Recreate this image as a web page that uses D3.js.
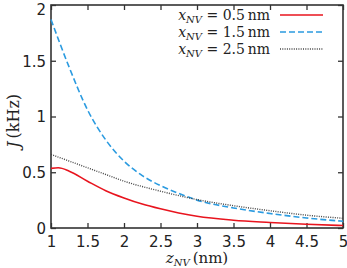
<!DOCTYPE html>
<html>
<head>
<meta charset="utf-8">
<script src="https://cdn.jsdelivr.net/npm/d3@7"></script>
<style>
  body { margin: 0; background: #fff; }
  svg { display: block; }
  .tick text { font-family: "DejaVu Sans", sans-serif; font-size: 15px; fill: #222; }
  .serif { font-family: "DejaVu Serif", "Liberation Serif", serif; fill: #222; }
</style>
</head>
<body>
<svg id="chart" width="347" height="268"></svg>
<script>
// z_NV (nm) sample points
var zRed   = [1, 1.1, 1.25, 1.5, 1.75, 2, 2.25, 2.5, 2.75, 3, 3.5, 4, 4.5, 5];
var jRed   = [0.535, 0.54, 0.51, 0.42, 0.335, 0.27, 0.215, 0.172, 0.135, 0.105, 0.07, 0.05, 0.033, 0.022];

var zBlue  = [1, 1.25, 1.5, 1.75, 2, 2.25, 2.5, 2.75, 3, 3.5, 4, 4.5, 5];
var jBlue  = [1.87, 1.44, 1.06, 0.79, 0.6, 0.47, 0.38, 0.31, 0.25, 0.18, 0.13, 0.09, 0.06];

var zBlack = [1, 1.25, 1.5, 1.75, 2, 2.5, 3, 3.5, 4, 4.5, 5];
var jBlack = [0.66, 0.6, 0.54, 0.48, 0.42, 0.33, 0.255, 0.2, 0.155, 0.115, 0.087];

var xTicks = [1, 1.5, 2, 2.5, 3, 3.5, 4, 4.5, 5];
var yTicks = [0, 0.5, 1, 1.5, 2];
var legendValues = ["0.5", "1.5", "2.5"];

var margin = {top: 5, right: 4, bottom: 40, left: 51},
    width = 347 - margin.left - margin.right,
    height = 268 - margin.top - margin.bottom;

var svg = d3.select("#chart");
var g = svg.append("g").attr("transform", "translate(" + margin.left + "," + margin.top + ")");

var x = d3.scaleLinear().domain([1, 5]).range([0, width]);
var y = d3.scaleLinear().domain([0, 2]).range([height, 0]);

var axisColor = "#333";

// bottom + left axes with inward ticks
var gx = g.append("g").attr("transform", "translate(0," + height + ")")
    .call(d3.axisBottom(x).tickValues(xTicks).tickFormat(d3.format("")).tickSizeInner(-5).tickSizeOuter(0).tickPadding(8));
var gy = g.append("g")
    .call(d3.axisLeft(y).tickValues(yTicks).tickFormat(d3.format("")).tickSizeInner(-5).tickSizeOuter(0).tickPadding(5));
// mirror ticks on top and right
var gt = g.append("g")
    .call(d3.axisTop(x).tickValues(xTicks).tickFormat("").tickSizeInner(-5).tickSizeOuter(0));
var gr = g.append("g").attr("transform", "translate(" + width + ",0)")
    .call(d3.axisRight(y).tickValues(yTicks).tickFormat("").tickSizeInner(-5).tickSizeOuter(0));

[gx, gy, gt, gr].forEach(function(a) {
    a.select(".domain").remove();
    a.selectAll(".tick line").attr("stroke", axisColor).attr("stroke-width", 1.3);
});
gy.selectAll(".tick text").attr("dy", function(d) { return d === 2 ? "0.65em" : "0.35em"; });
gx.selectAll(".tick text").attr("dy", "0.7em");

// frame
g.append("rect")
    .attr("width", width).attr("height", height)
    .attr("fill", "none").attr("stroke", axisColor).attr("stroke-width", 1.6);

var line = d3.line()
    .x(function(d) { return x(d[0]); })
    .y(function(d) { return y(d[1]); })
    .curve(d3.curveMonotoneX);

var series = [
    {z: zRed,   j: jRed,   color: "#e8141e", dash: null,  w: 1.6},
    {z: zBlue,  j: jBlue,  color: "#2b9be0", dash: "6,3", w: 1.6},
    {z: zBlack, j: jBlack, color: "#444",    dash: "1,1.3", w: 1.4}
];

var plot = g.append("g");
series.forEach(function(s) {
    plot.append("path")
        .datum(d3.zip(s.z, s.j))
        .attr("d", line)
        .attr("fill", "none")
        .attr("stroke", s.color)
        .attr("stroke-width", s.w)
        .attr("stroke-dasharray", s.dash);
});

// legend
var legend = svg.append("g");
series.forEach(function(s, i) {
    var ly = 15 + i * 17;
    var t = legend.append("text").attr("class", "serif")
        .attr("x", 270).attr("y", ly).attr("dy", "0.35em")
        .attr("text-anchor", "end").style("font-size", "14px");
    t.append("tspan").style("font-style", "italic").text("x");
    t.append("tspan").style("font-style", "italic").style("font-size", "10px").attr("dy", "3").text("NV");
    t.append("tspan").attr("dy", "-3").text(" = " + legendValues[i] + "\u2009nm");
    legend.append("line")
        .attr("x1", 280).attr("x2", 323).attr("y1", ly).attr("y2", ly)
        .attr("stroke", s.color).attr("stroke-width", s.w)
        .attr("stroke-dasharray", s.dash);
});

// x label
var xl = svg.append("text").attr("class", "serif")
    .attr("x", margin.left + width / 2).attr("y", 263)
    .attr("text-anchor", "middle").style("font-size", "15px");
xl.append("tspan").style("font-style", "italic").text("z");
xl.append("tspan").style("font-style", "italic").style("font-size", "10px").attr("dy", "2.5").text("NV");
xl.append("tspan").attr("dy", "-2.5").text("\u2009(nm)");

// y label
var yl = svg.append("text").attr("class", "serif")
    .attr("transform", "translate(19," + (margin.top + 116) + ") rotate(-90)")
    .attr("text-anchor", "middle").style("font-size", "16px");
yl.append("tspan").style("font-style", "italic").text("J");
yl.append("tspan").text("\u2009(kHz)");
</script>
</body>
</html>
